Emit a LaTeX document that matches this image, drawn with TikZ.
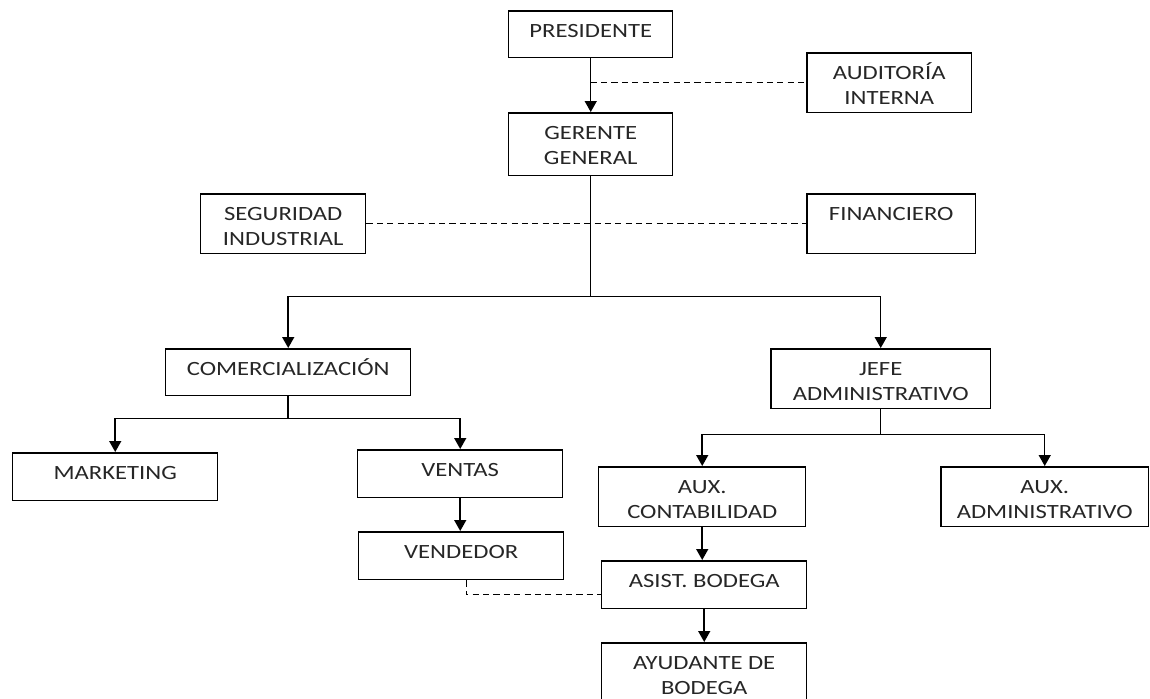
\documentclass[tikz,border=0pt]{standalone}
\usepackage{fontspec}
\setmainfont{Carlito}[FakeStretch=1.22]
\usetikzlibrary{arrows.meta,positioning,calc}
% caja con el texto arriba: ancho, alto, texto
\newcommand{\cajatxt}[3]{\parbox[c][#2][t]{#1}{\centering\rule{0pt}{0.53cm}#3}}
\tikzset{
  caja/.style={draw,anchor=north west,inner sep=0pt,line width=0.85pt,
    font=\fontsize{11.5}{14.2}\selectfont,text=black!85},
  flecha/.style={-{Triangle[length=2.2mm,width=2.4mm]},line width=0.85pt},
  linea/.style={line width=0.85pt},
  staff/.style={line width=0.8pt,dash pattern=on 3.5pt off 2.4pt},
}
\begin{document}
\begin{tikzpicture}[x=0.02cm,y=-0.02cm]
  \useasboundingbox (0,0) rectangle (1150,698);
  % direccion
  \node[caja] (pres) at (508,10) {\cajatxt{3.28cm}{0.94cm}{PRESIDENTE}};
  \node[caja] (aud) at (806,52) {\cajatxt{3.3cm}{1.2cm}{AUDITORÍA\\INTERNA}};
  \node[caja] (ger) at (508,112) {\cajatxt{3.28cm}{1.26cm}{GERENTE\\GENERAL}};
  \node[caja] (seg) at (200,193) {\cajatxt{3.3cm}{1.2cm}{SEGURIDAD\\INDUSTRIAL}};
  \node[caja] (fin) at (806,193) {\cajatxt{3.38cm}{1.2cm}{FINANCIERO}};
  % areas
  \node[caja] (com) at (165,348) {\cajatxt{4.9cm}{0.94cm}{COMERCIALIZACIÓN}};
  \node[caja] (jefe) at (770,348) {\cajatxt{4.4cm}{1.2cm}{JEFE\\ADMINISTRATIVO}};
  \node[caja] (mkt) at (12,452) {\cajatxt{4.1cm}{0.96cm}{MARKETING}};
  \node[caja] (ven) at (357,449) {\cajatxt{4.1cm}{0.96cm}{VENTAS}};
  \node[caja] (vend) at (358,531) {\cajatxt{4.1cm}{0.96cm}{VENDEDOR}};
  \node[caja] (auxc) at (598,466) {\cajatxt{4.14cm}{1.2cm}{AUX.\\CONTABILIDAD}};
  \node[caja] (auxa) at (940,466) {\cajatxt{4.16cm}{1.2cm}{AUX.\\ADMINISTRATIVO}};
  \node[caja] (asis) at (601,560) {\cajatxt{4.1cm}{0.96cm}{ASIST. BODEGA}};
  \node[caja] (ayu) at (601,642) {\cajatxt{4.1cm}{1.2cm}{AYUDANTE DE\\BODEGA}};
  % ramas
  \coordinate (b1) at ($(ger.south)+(0,120)$);
  \coordinate (b2) at ($(com.south)+(0,22)$);
  \coordinate (b3) at ($(jefe.south)+(0,25)$);
  \draw[flecha] (pres) -- (ger);
  \draw[staff] (pres.south |- aud.west) -- (aud.west);
  \draw[linea] (ger) -- (b1);
  \draw[staff] (seg) -- (fin);
  \draw[flecha] (b1) -| (com.north);
  \draw[flecha] (b1) -| (jefe.north);
  \draw[linea] (com) -- (b2);
  \draw[flecha] (b2) -| (mkt.north);
  \draw[flecha] (b2) -| (ven.north);
  \draw[flecha] (ven.south) -- (ven.south |- vend.north);
  \draw[linea] (jefe.south) -- (b3);
  \draw[flecha] (b3) -| (auxc.north);
  \draw[flecha] (b3) -| (auxa.north);
  \draw[flecha] (auxc.south) -- (auxc.south |- asis.north);
  \draw[flecha] (asis.south) -- (asis.south |- ayu.north);
  \draw[staff] ([xshift=0.1cm]vend.south) |- ([yshift=-0.2cm]asis.west);
\end{tikzpicture}
\end{document}
